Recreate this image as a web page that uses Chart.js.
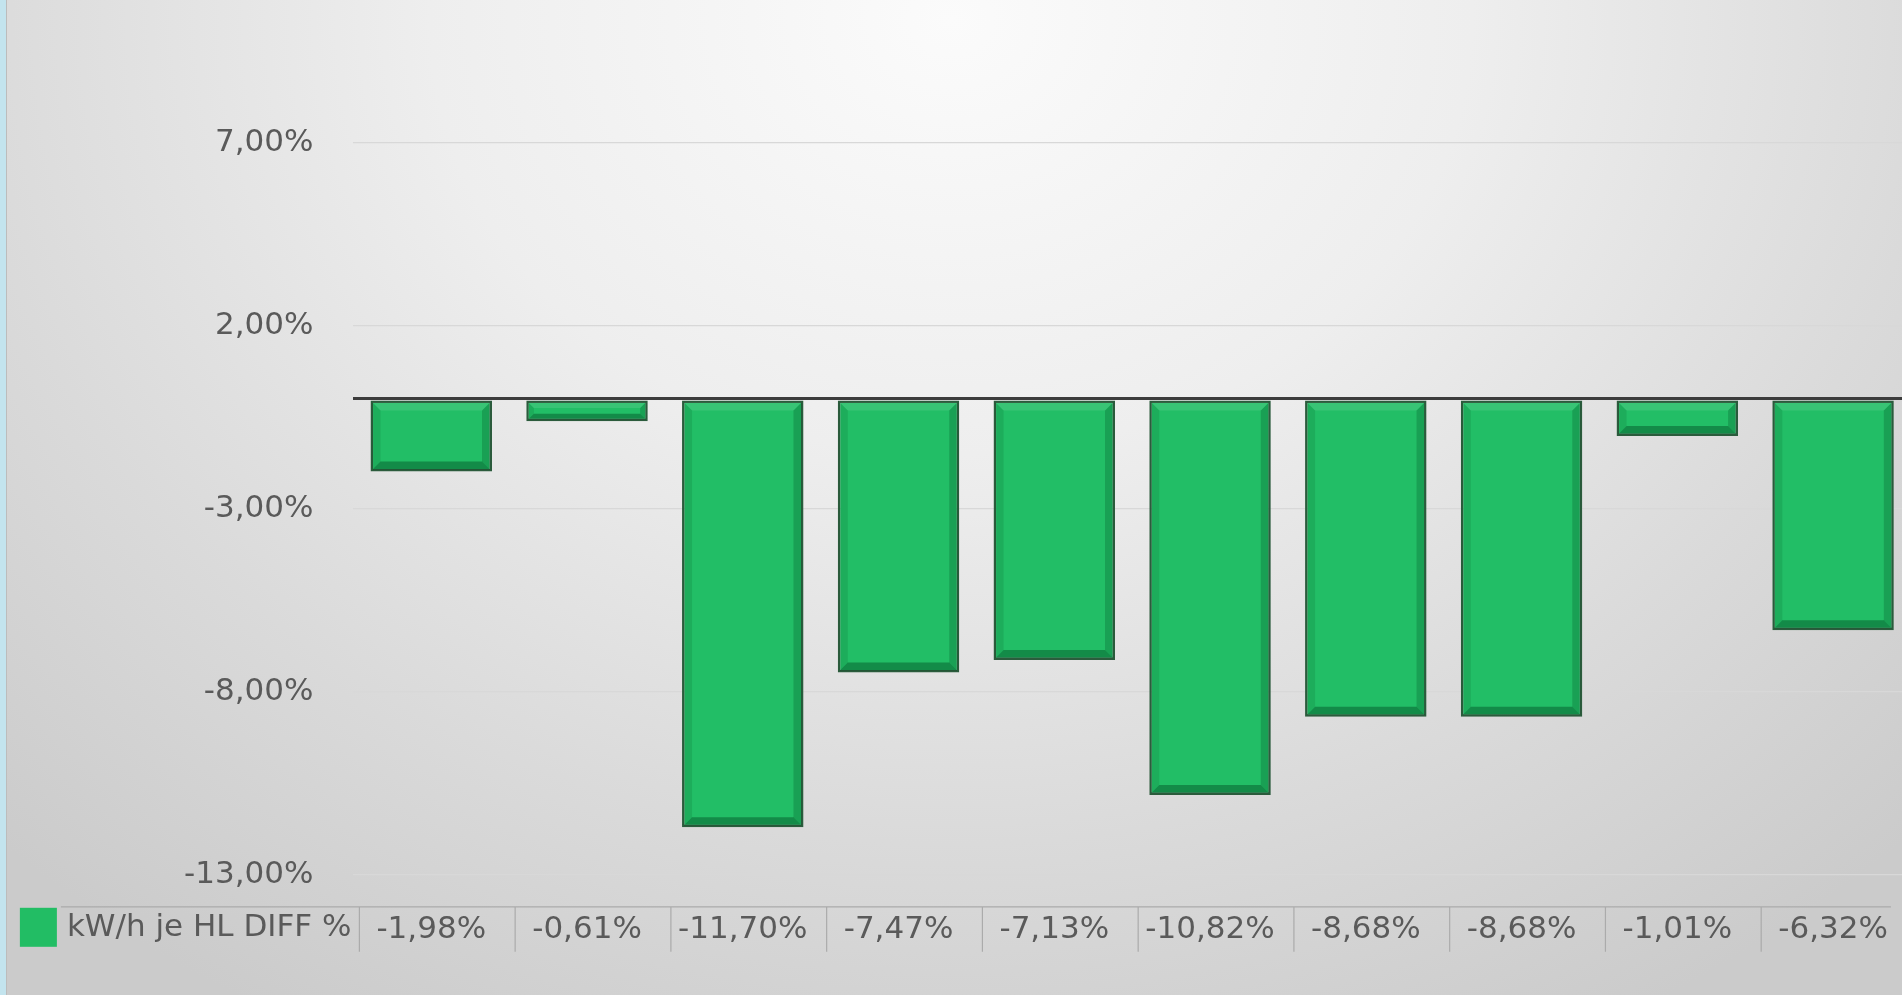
<!DOCTYPE html>
<html>
<head>
<meta charset="utf-8">
<script src="https://cdn.jsdelivr.net/npm/chart.js@4.4.1/dist/chart.umd.min.js"></script>
<style>
  html, body { margin: 0; padding: 0; width: 1902px; height: 995px; overflow: hidden; }
  body {
    background: radial-gradient(ellipse 72% 115% at 50% 2%, #fbfbfb 0%, #eeeeee 38%, #dadada 72%, #cbcbcb 100%);
    position: relative;
  }
  #edge { position: absolute; left: 0; top: 0; width: 6px; height: 995px; background: #c3e4ee; border-right: 1px solid #bcbcbc; }
  #wrap { position: absolute; left: 0; top: 0; width: 1917px; height: 995px; }
</style>
</head>
<body>
<div id="edge"></div>
<div id="wrap"><canvas id="c"></canvas></div>
<script>
const seriesName = 'kW/h je HL DIFF %';
const values = [-1.98, -0.61, -11.70, -7.47, -7.13, -10.82, -8.68, -8.68, -1.01, -6.32];
const yTicks = [-13, -8, -3, 2, 7];
const yMin = -13;
const yMax = 9.30;

const fmt = v => v.toFixed(2).replace('.', ',') + '%';
const categories = values.map(fmt);

const FONT = 'DejaVu Sans';
const TEXT = '#5a5a5a';

const bevel = {
  id: 'bevel',
  afterDatasetsDraw(chart) {
    const ctx = chart.ctx;
    chart.getDatasetMeta(0).data.forEach(bar => {
      const p = bar.getProps(['x', 'y', 'base', 'width'], true);
      const l = p.x - p.width / 2 + 2, r = p.x + p.width / 2 - 2;
      const t = Math.min(p.y, p.base) + 2, b = Math.max(p.y, p.base) - 2;
      const s = Math.min(8, (b - t) / 3);
      ctx.save();
      const poly = (pts, col) => {
        ctx.beginPath();
        ctx.moveTo(pts[0][0], pts[0][1]);
        for (let i = 1; i < pts.length; i++) ctx.lineTo(pts[i][0], pts[i][1]);
        ctx.closePath();
        ctx.fillStyle = col; ctx.fill();
      };
      poly([[l, b], [r, b], [r - s, b - s], [l + s, b - s]], 'rgba(0,70,30,0.42)');
      poly([[r, t], [r, b], [r - s, b - s], [r - s, t + s]], 'rgba(0,70,30,0.25)');
      poly([[l, t], [l, b], [l + s, b - s], [l + s, t + s]], 'rgba(0,70,30,0.14)');
      poly([[l, t], [r, t], [r - s, t + s], [l + s, t + s]], 'rgba(255,255,255,0.10)');
      ctx.restore();
    });
  }
};

const dataTable = {
  id: 'dataTable',
  afterDraw(chart) {
    const ctx = chart.ctx;
    const xs = chart.scales.x;
    const area = chart.chartArea;
    const top = area.bottom + 32, bot = area.bottom + 77, mid = area.bottom + 53;
    const half = (xs.getPixelForValue(1) - xs.getPixelForValue(0)) / 2;
    ctx.save();
    ctx.font = '31px "' + FONT + '"';
    ctx.textAlign = 'right';
    ctx.textBaseline = 'middle';
    ctx.fillStyle = TEXT;
    const textRight = area.left - 2;
    ctx.fillText(seriesName, textRight, mid);
    const tw = ctx.measureText(seriesName).width;
    const keyR = textRight - tw - 10;
    ctx.fillStyle = '#22bd64';
    ctx.fillRect(keyR - 37, top + 1, 37, 39);
    ctx.strokeStyle = '#ababab';
    ctx.lineWidth = 1.2;
    ctx.beginPath();
    ctx.moveTo(keyR + 4, top); ctx.lineTo(xs.getPixelForValue(values.length - 1) + half - 20, top);
    for (let i = 0; i < values.length; i++) {
      const bx = xs.getPixelForValue(i) - half + 6;
      ctx.moveTo(bx, top); ctx.lineTo(bx, bot);
    }
    ctx.stroke();
    ctx.restore();
  }
};

new Chart(document.getElementById('c'), {
  type: 'bar',
  data: {
    labels: categories,
    datasets: [{
      label: seriesName,
      data: values,
      backgroundColor: '#22be66',
      borderColor: '#2b5b3c',
      borderWidth: 2.5,
      borderSkipped: false,
      categoryPercentage: 1,
      barPercentage: 0.78
    }]
  },
  options: {
    responsive: true,
    maintainAspectRatio: false,
    animation: false,
    layout: { padding: { left: 144, right: 2, top: 0, bottom: 17 } },
    plugins: { legend: { display: false }, tooltip: { enabled: false } },
    scales: {
      x: {
        grid: { display: false },
        border: { display: false },
        ticks: {
          autoSkip: false, maxRotation: 0, padding: 29,
          color: TEXT, font: { family: FONT, size: 31 }
        }
      },
      y: {
        min: yMin, max: yMax,
        afterBuildTicks(scale) {
          scale.ticks = yTicks.concat([0]).map(v => ({ value: v }));
        },
        border: { display: false },
        grid: {
          drawTicks: false,
          color: c => c.tick && c.tick.value === 0 ? '#3c3c3c' : '#d8d8d8',
          lineWidth: c => c.tick && c.tick.value === 0 ? 3 : 1.2
        },
        ticks: {
          padding: 40,
          color: TEXT,
          font: { family: FONT, size: 31 },
          callback: v => v === 0 ? '' : fmt(v)
        }
      }
    }
  },
  plugins: [bevel, dataTable]
});
</script>
</body>
</html>
